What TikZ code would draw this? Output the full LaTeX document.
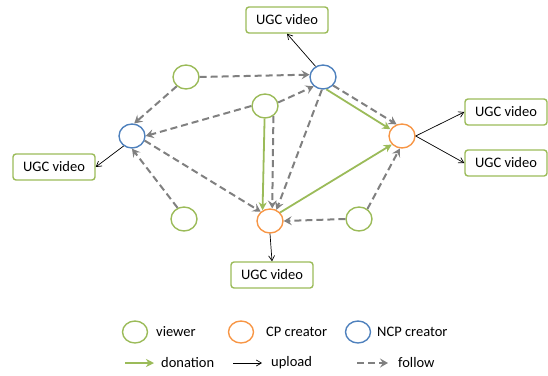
\documentclass[tikz,border=0pt]{standalone}
\usepackage{fontspec}
\setmainfont{Carlito}
\usetikzlibrary{arrows.meta, shapes.geometric}
\definecolor{viewgreen}{RGB}{155,187,89}
\definecolor{cporange}{RGB}{247,150,70}
\definecolor{ncpblue}{RGB}{79,129,189}
\definecolor{followgray}{RGB}{128,128,128}

\begin{document}
\begin{tikzpicture}[x=1pt,y=-1pt]
      \tikzset{user/.style={ellipse,
          draw=#1,
          line width=1.4pt,
          minimum width=26pt,
          minimum height=24pt,
          inner sep=0pt},
        video/.style={draw=viewgreen, line width=1.4pt, rounded corners=3pt,
          minimum width=82pt, minimum height=26pt, inner sep=0pt,
          font=\fontsize{14.5}{17}\selectfont},
        legtext/.style={anchor=west, inner sep=0pt, font=\fontsize{14.5}{17}\selectfont},
        donation/.style={draw=viewgreen, line width=1.8pt, -{Stealth[length=8pt,width=8pt,inset=2.5pt]}},
        upload/.style={draw=black, line width=0.7pt, -{Straight Barb[length=5pt,width=6pt]}},
        follow/.style={draw=followgray, line width=2pt, dash pattern=on 7pt off 4pt,
          -{Stealth[length=8pt,width=9pt,inset=3pt]}}
      }
      \useasboundingbox (0,0) rectangle (548,375);

      % users
      \node [user=viewgreen] (V1) at (186,77) {};
      \node [user=ncpblue] (N1) at (323,77) {};
      \node [user=viewgreen] (V2) at (265,106) {};
      \node [user=ncpblue] (N2) at (132,136) {};
      \node [user=cporange] (C1) at (402,136) {};
      \node [user=cporange] (C2) at (270,221) {};
      \node [user=viewgreen] (V3) at (359,219) {};
      \node [user=viewgreen] (V4) at (184,219) {};

      % videos
      \node [video] (ugcT) at (287,20) {UGC video};
      \node [video] (ugcL) at (54,167) {UGC video};
      \node [video] (ugcRa) at (506,112) {UGC video};
      \node [video] (ugcRb) at (506,163) {UGC video};
      \node [video] (ugcB) at (272,275) {UGC video};

      \draw [upload] (N1.125) -- (ugcT.south);
      \draw [upload] (N2.-130) -- (ugcL.east);
      \draw [upload] (C1.east) -- (ugcRa.west);
      \draw [upload] (C1.east) -- (ugcRb.west);
      \draw [upload] (C2.south) -- (ugcB.north);

      \draw [follow] (V1.east) -- (N1.170);
      \draw [follow] (V1.-135) -- (N2.80);
      \draw [follow] (V2.west) -- (N2.east);
      \draw [follow] (V2.15) -- (N1.-135);
      \draw [follow] (V2.-50) -- (C2.80);
      \draw [follow] (N1.-95) -- (C2.60);
      \draw [follow] (N1.-40) -- (C1.115);
      \draw [follow] (N2.-20) -- (C2.135);
      \draw [follow] (V4.120) -- (N2.-90);
      \draw [follow] (V3.50) -- (C1.-100);
      \draw [follow] (V3.west) -- (C2.east);

      \draw [donation] (N1.-75) -- (C1.150);
      \draw [donation] (V2.-92) -- (C2.125);
      \draw [donation] (C2.40) -- (C1.-140);

      % legend
      \node [user=viewgreen, minimum width=25pt, minimum height=22pt] (LV) at (135,332) {};
      \node [legtext] (LVt) at (156,332) {viewer};
      \node [user=cporange, minimum width=25pt, minimum height=22pt] (LC) at (241,332) {};
      \node [legtext] (LCt) at (266,332) {CP creator};
      \node [user=ncpblue, minimum width=25pt, minimum height=22pt] (LN) at (358,332) {};
      \node [legtext] (LNt) at (377,332) {NCP creator};

      \coordinate (d1) at (125,363);
      \coordinate (d2) at (154,363);
      \node [legtext] (LDt) at (161,363) {donation};
      \coordinate (u1) at (233,363);
      \coordinate (u2) at (262,363);
      \node [legtext] (LUt) at (271,363) {upload};
      \coordinate (f1) at (357,363);
      \coordinate (f2) at (388,363);
      \node [legtext] (LFt) at (398,363) {follow};
      \draw [donation] (d1) -- (d2);
      \draw [upload] (u1) -- (u2);
      \draw [follow] (f1) -- (f2);
    \end{tikzpicture}
\end{document}
